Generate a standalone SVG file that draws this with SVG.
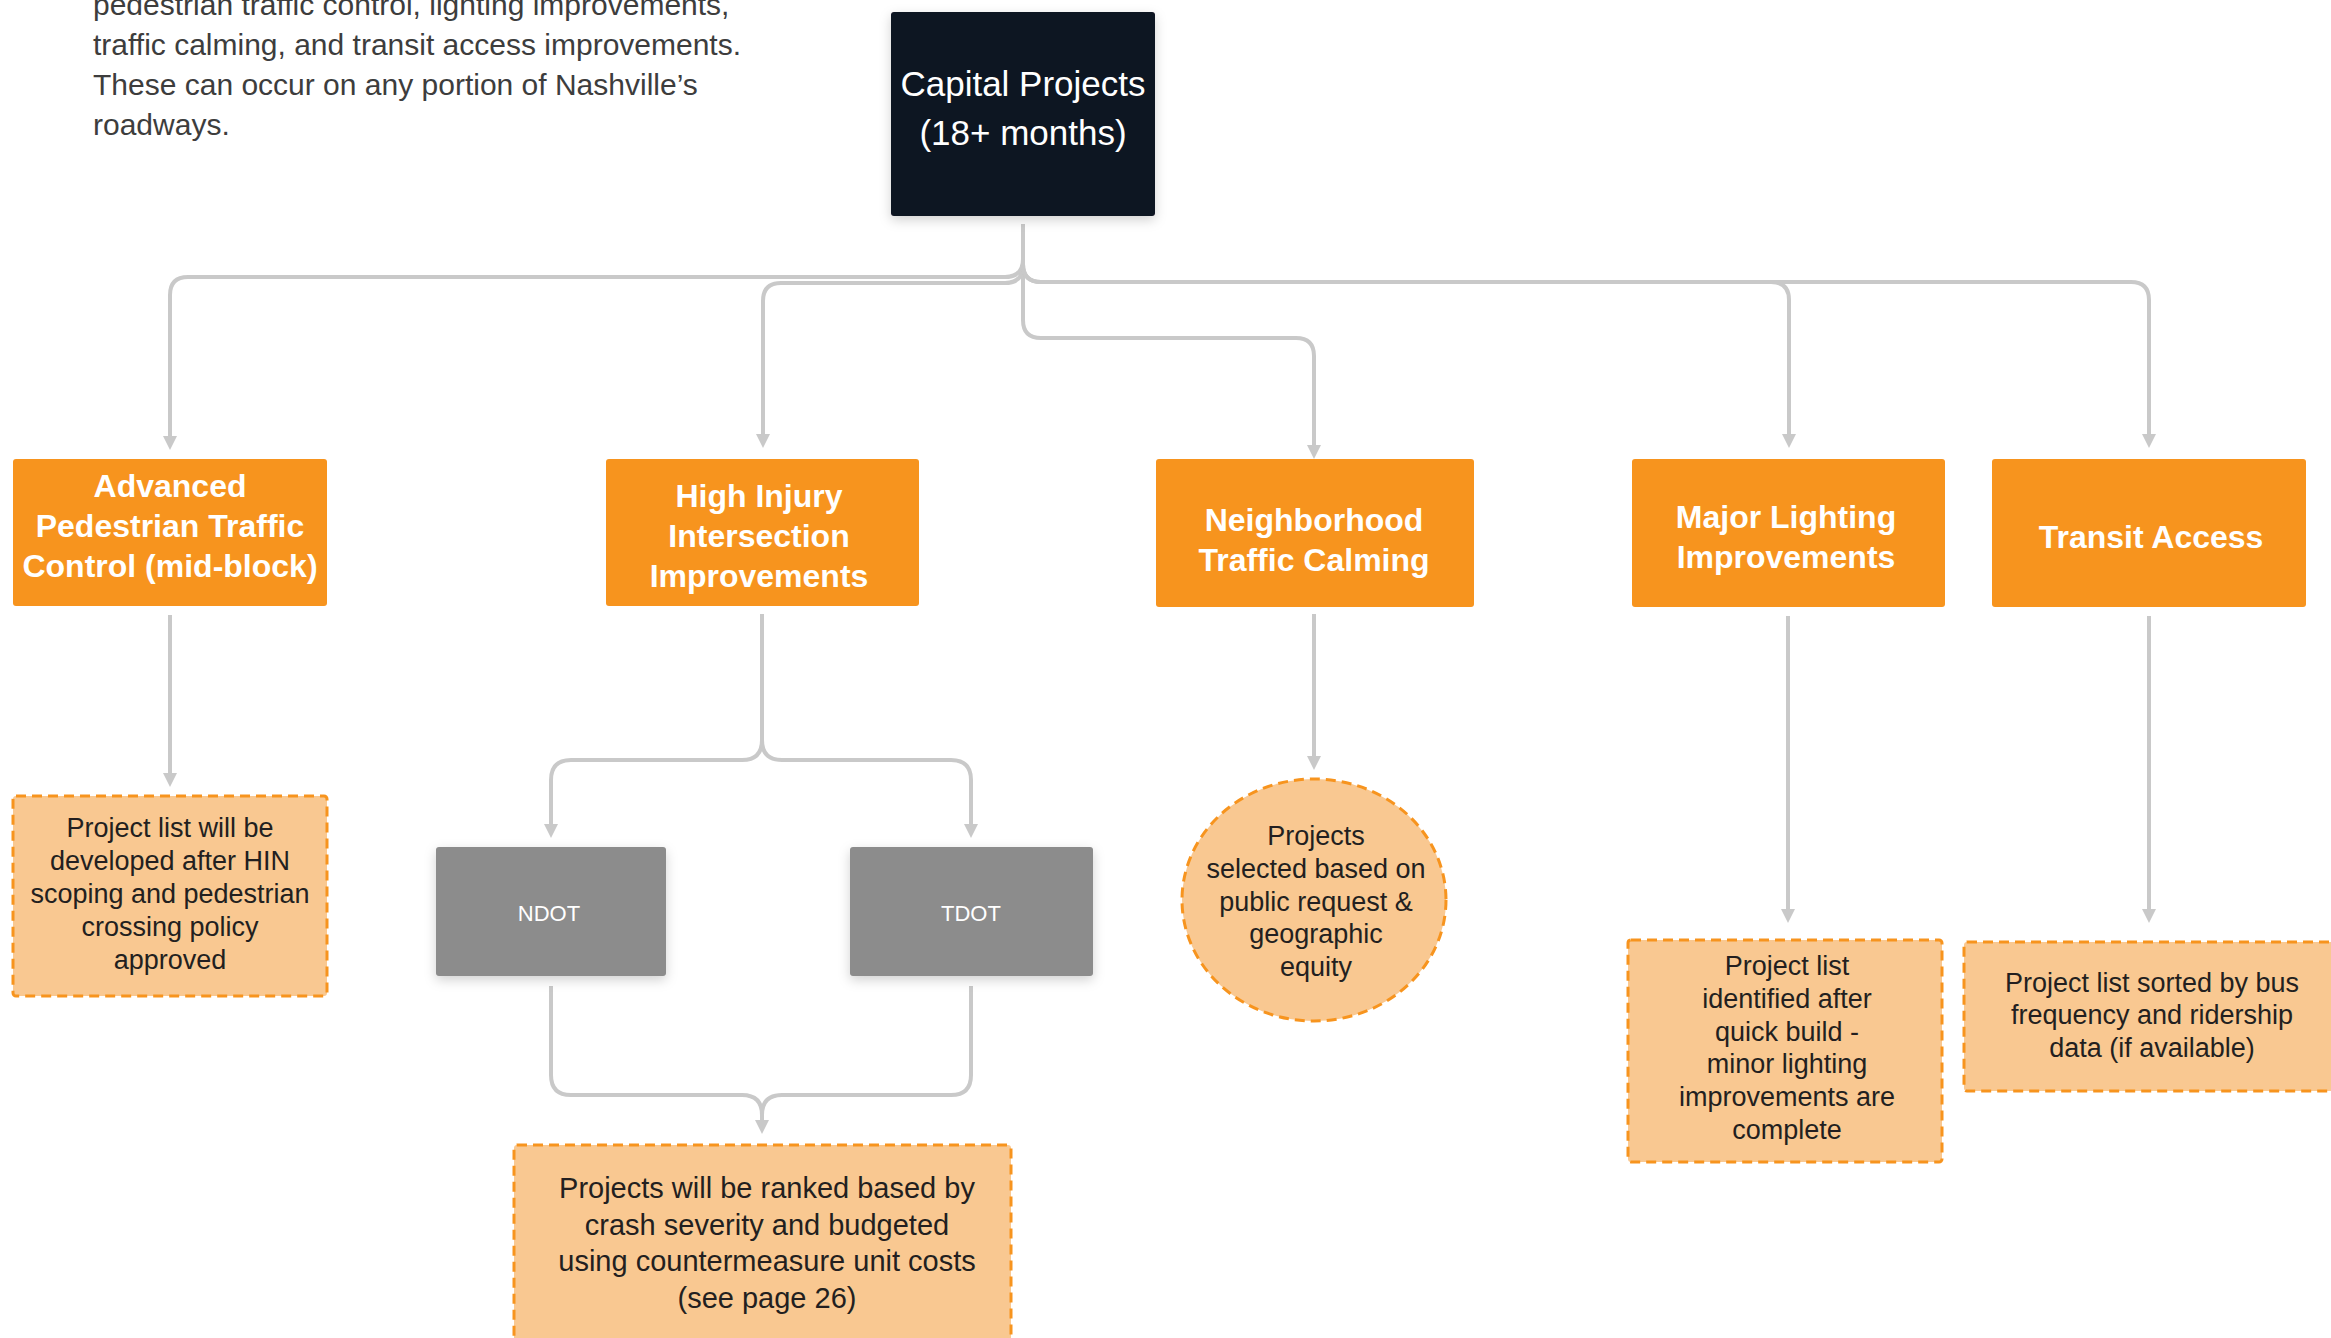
<svg xmlns="http://www.w3.org/2000/svg" width="2331" height="1338" viewBox="0 0 2331 1338">
<style>
.para{font-family:"Liberation Sans",Arial,sans-serif;font-size:30px;fill:#3d3d3d}
.cap{font-family:"Liberation Sans",Arial,sans-serif;font-size:35px;fill:#ffffff;text-anchor:middle}
.ob{fill:#f7941e}
.ot{font-family:"Liberation Sans",Arial,sans-serif;font-size:32px;font-weight:bold;fill:#ffffff;text-anchor:middle}
.note{fill:#f9c891;stroke:#f7941e;stroke-width:3;stroke-dasharray:10 6}
.nt{font-family:"Liberation Sans",Arial,sans-serif;font-size:27px;fill:#231f20;text-anchor:middle}
.nt2{font-family:"Liberation Sans",Arial,sans-serif;font-size:29px;fill:#231f20;text-anchor:middle}
.gb{fill:#8c8c8c}
.gt{font-family:"Liberation Sans",Arial,sans-serif;font-size:22px;fill:#ffffff;text-anchor:middle}
.c{fill:none;stroke:#c9c9c9;stroke-width:4}
.ca{fill:none;stroke:#c9c9c9;stroke-width:4;marker-end:url(#arr)}
</style>
<defs>
<marker id="arr" viewBox="0 0 10 10" refX="0" refY="5" markerWidth="14" markerHeight="15" markerUnits="userSpaceOnUse" orient="auto">
<path d="M0,0 L10,5 L0,10 z" fill="#c9c9c9"/>
</marker>
<filter id="sh" x="-20%" y="-20%" width="140%" height="150%">
<feDropShadow dx="0" dy="4" stdDeviation="6" flood-color="#000" flood-opacity="0.18"/>
</filter>
</defs>

<g id="intro">
<text class="para" x="93" y="15">pedestrian traffic control, lighting improvements,</text>
<text class="para" x="93" y="55">traffic calming, and transit access improvements.</text>
<text class="para" x="93" y="95">These can occur on any portion of Nashville’s</text>
<text class="para" x="93" y="135">roadways.</text>
</g>

<g id="connectors">
<path class="ca" d="M1023,224 V259 Q1023,277 1005,277 H188 Q170,277 170,295 V436"/>
<path class="ca" d="M1023,224 V265 Q1023,283 1005,283 H781 Q763,283 763,301 V434"/>
<path class="ca" d="M1023,224 V320 Q1023,338 1041,338 H1296 Q1314,338 1314,356 V445"/>
<path class="ca" d="M1023,224 V264 Q1023,282 1041,282 H1771 Q1789,282 1789,300 V434"/>
<path class="ca" d="M1023,224 V264 Q1023,282 1041,282 H2131 Q2149,282 2149,300 V434"/>
<path class="ca" d="M170,615 V773"/>
<path class="ca" d="M762,614 V740 Q762,760 742,760 H571 Q551,760 551,780 V824"/>
<path class="ca" d="M762,614 V740 Q762,760 782,760 H951 Q971,760 971,780 V824"/>
<path class="c" d="M551,986 V1075 Q551,1095 571,1095 H742 Q762,1095 762,1115"/>
<path class="ca" d="M971,986 V1075 Q971,1095 951,1095 H782 Q762,1095 762,1115 V1120"/>
<path class="ca" d="M1314,614 V756"/>
<path class="ca" d="M1788,616 V909"/>
<path class="ca" d="M2149,616 V909"/>
</g>

<g id="capital">
<rect x="891" y="12" width="264" height="204" rx="3" fill="#111322" filter="url(#sh)"/>
<text class="cap" x="1023" y="96">Capital Projects</text>
<text class="cap" x="1023" y="145">(18+ months)</text>
</g>

<g id="advanced">
<rect class="ob" x="13" y="459" width="314" height="147" rx="3"/>
<text class="ot" x="170" y="497">Advanced</text>
<text class="ot" x="170" y="537">Pedestrian Traffic</text>
<text class="ot" x="170" y="577">Control (mid-block)</text>
</g>

<g id="highinjury">
<rect class="ob" x="606" y="459" width="313" height="147" rx="3"/>
<text class="ot" x="759" y="507">High Injury</text>
<text class="ot" x="759" y="547">Intersection</text>
<text class="ot" x="759" y="587">Improvements</text>
</g>

<g id="neighborhood">
<rect class="ob" x="1156" y="459" width="318" height="148" rx="3"/>
<text class="ot" x="1314" y="531">Neighborhood</text>
<text class="ot" x="1314" y="571">Traffic Calming</text>
</g>

<g id="majorlighting">
<rect class="ob" x="1632" y="459" width="313" height="148" rx="3"/>
<text class="ot" x="1786" y="528">Major Lighting</text>
<text class="ot" x="1786" y="568">Improvements</text>
</g>

<g id="transit">
<rect class="ob" x="1992" y="459" width="314" height="148" rx="3"/>
<text class="ot" x="2151" y="548">Transit Access</text>
</g>

<g id="note-advanced">
<rect class="note" x="13" y="796" width="314" height="200" rx="3"/>
<text class="nt" x="170" y="837">Project list will be</text>
<text class="nt" x="170" y="870">developed after HIN</text>
<text class="nt" x="170" y="903">scoping and pedestrian</text>
<text class="nt" x="170" y="936">crossing policy</text>
<text class="nt" x="170" y="969">approved</text>
</g>

<g id="ndot">
<rect class="gb" x="436" y="847" width="230" height="129" rx="3" filter="url(#sh)"/>
<text class="gt" x="549" y="921">NDOT</text>
</g>

<g id="tdot">
<rect class="gb" x="850" y="847" width="243" height="129" rx="3" filter="url(#sh)"/>
<text class="gt" x="971" y="921">TDOT</text>
</g>

<g id="note-ranked">
<rect class="note" x="514" y="1145" width="497" height="210" rx="3"/>
<text class="nt2" x="767" y="1198">Projects will be ranked based by</text>
<text class="nt2" x="767" y="1235">crash severity and budgeted</text>
<text class="nt2" x="767" y="1271">using countermeasure unit costs</text>
<text class="nt2" x="767" y="1308">(see page 26)</text>
</g>

<g id="note-neighborhood">
<ellipse class="note" cx="1314" cy="900" rx="132" ry="121"/>
<text class="nt" x="1316" y="845">Projects</text>
<text class="nt" x="1316" y="878">selected based on</text>
<text class="nt" x="1316" y="911">public request &amp;</text>
<text class="nt" x="1316" y="943">geographic</text>
<text class="nt" x="1316" y="976">equity</text>
</g>

<g id="note-lighting">
<rect class="note" x="1628" y="940" width="314" height="222" rx="3"/>
<text class="nt" x="1787" y="975">Project list</text>
<text class="nt" x="1787" y="1008">identified after</text>
<text class="nt" x="1787" y="1041">quick build -</text>
<text class="nt" x="1787" y="1073">minor lighting</text>
<text class="nt" x="1787" y="1106">improvements are</text>
<text class="nt" x="1787" y="1139">complete</text>
</g>

<g id="note-transit">
<rect class="note" x="1964" y="942" width="390" height="149" rx="3"/>
<text class="nt" x="2152" y="992">Project list sorted by bus</text>
<text class="nt" x="2152" y="1024">frequency and ridership</text>
<text class="nt" x="2152" y="1057">data (if available)</text>
</g>
</svg>
